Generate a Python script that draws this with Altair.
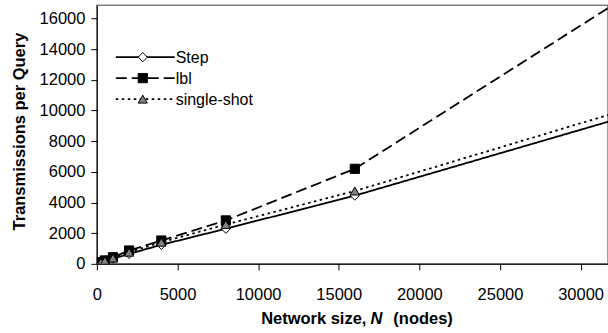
import altair as alt
import pandas as pd

# Network sizes (nodes) at which each protocol was measured
network_size = [250, 500, 1000, 2000, 4000, 8000, 16000, 32000]

# Transmissions per query for each protocol
step = [80, 170, 330, 650, 1240, 2290, 4450, 9360]
lbl = [110, 220, 430, 870, 1520, 2830, 6200, 16880]
single_shot = [100, 200, 380, 760, 1410, 2570, 4750, 9800]

series_names = ["Step", "lbl", "single-shot"]
series_values = [step, lbl, single_shot]

y_ticks = [0, 2000, 4000, 6000, 8000, 10000, 12000, 14000, 16000]
x_ticks = [0, 5000, 10000, 15000, 20000, 25000, 30000]

# Per-series styling
dashes = [[1, 0], [11, 5], [2.5, 3.5]]
shapes = ["diamond", "square", "triangle-up"]
fills = ["white", "black", "#808080"]

rows = []
for name, vals in zip(series_names, series_values):
    for n, v in zip(network_size, vals):
        rows.append({"N": n, "value": v, "series": name})
df = pd.DataFrame(rows)

FONT = "Liberation Sans"
W, H = 512, 259

x_enc = alt.X(
    "N:Q",
    scale=alt.Scale(domain=[0, 31700], nice=False, zero=True),
    axis=alt.Axis(
        values=x_ticks, tickCount=len(x_ticks), title=None, format="d",
        labelFontSize=16.5, labelPadding=17, tickSize=6,
    ),
)
y_enc = alt.Y(
    "value:Q",
    scale=alt.Scale(domain=[0, 16868], nice=False),
    axis=alt.Axis(
        values=y_ticks, tickCount=len(y_ticks), title="Transmissions per Query",
        format="d", labelFontSize=16.5, labelPadding=6, tickSize=6,
        titleFontSize=16.5, titleFontWeight="bold",
        titleX=-77, titleY=126, titleBaseline="middle", titleAlign="center",
    ),
)

dash_scale = alt.Scale(domain=series_names, range=dashes)
shape_scale = alt.Scale(domain=series_names, range=shapes)
fill_scale = alt.Scale(domain=series_names, range=fills)

lines = alt.Chart(df).mark_line(color="black", strokeWidth=1.8, clip=True).encode(
    x=x_enc,
    y=y_enc,
    strokeDash=alt.StrokeDash("series:N", scale=dash_scale, legend=None),
    detail="series:N",
)

points = alt.Chart(df).mark_point(
    stroke="black", strokeWidth=1, opacity=1, size=85, filled=False, clip=True
).encode(
    x=x_enc,
    y=y_enc,
    shape=alt.Shape("series:N", scale=shape_scale, legend=None),
    fill=alt.Fill("series:N", scale=fill_scale, legend=None),
)

# x-axis title in three runs so that N can be set in italics
title_parts = [
    ("Network size,", "normal", "right", 270),
    ("N", "italic", "left", 274),
    ("(nodes)", "normal", "left", 297),
]
title_layers = []
for text, style, align, xpos in title_parts:
    title_layers.append(
        alt.Chart(pd.DataFrame({"t": [text]})).mark_text(
            align=align, baseline="alphabetic", fontSize=16.5, fontWeight="bold",
            fontStyle=style, font=FONT, color="black",
        ).encode(x=alt.value(xpos), y=alt.value(H + 60), text="t:N")
    )

# Legend inside the plot area, one row per series
legend_layers = []
row_y = [52, 73, 94]
for i, name in enumerate(series_names):
    ldf = pd.DataFrame({"series": [name]})
    legend_layers.append(
        alt.Chart(ldf).mark_rule(color="black", strokeWidth=1.8, strokeDash=dashes[i]).encode(
            x=alt.value(19), x2=alt.value(78), y=alt.value(row_y[i])
        )
    )
    legend_layers.append(
        alt.Chart(ldf).mark_point(
            shape=shapes[i], fill=fills[i], stroke="black", strokeWidth=1,
            opacity=1, size=85, filled=False,
        ).encode(x=alt.value(46), y=alt.value(row_y[i]))
    )
    legend_layers.append(
        alt.Chart(ldf).mark_text(
            align="left", baseline="middle", fontSize=16, font=FONT, color="black"
        ).encode(x=alt.value(79), y=alt.value(row_y[i] + 1), text="series:N")
    )

chart = alt.layer(lines, points, *title_layers, *legend_layers).properties(
    width=W,
    height=H,
    padding={"left": 97, "top": 5, "right": 0, "bottom": 69},
    autosize=alt.AutoSizeParams(type="none"),
    background="white",
).configure_view(
    stroke="#808080", strokeWidth=1.5
).configure_axis(
    grid=False, domainColor="black", domainWidth=1, tickColor="black",
    labelColor="black", titleColor="black", labelFont=FONT, titleFont=FONT,
    labelFlush=False, labelOverlap=False,
)

chart.save("out.html", embed_options={"renderer": "svg", "actions": False})
